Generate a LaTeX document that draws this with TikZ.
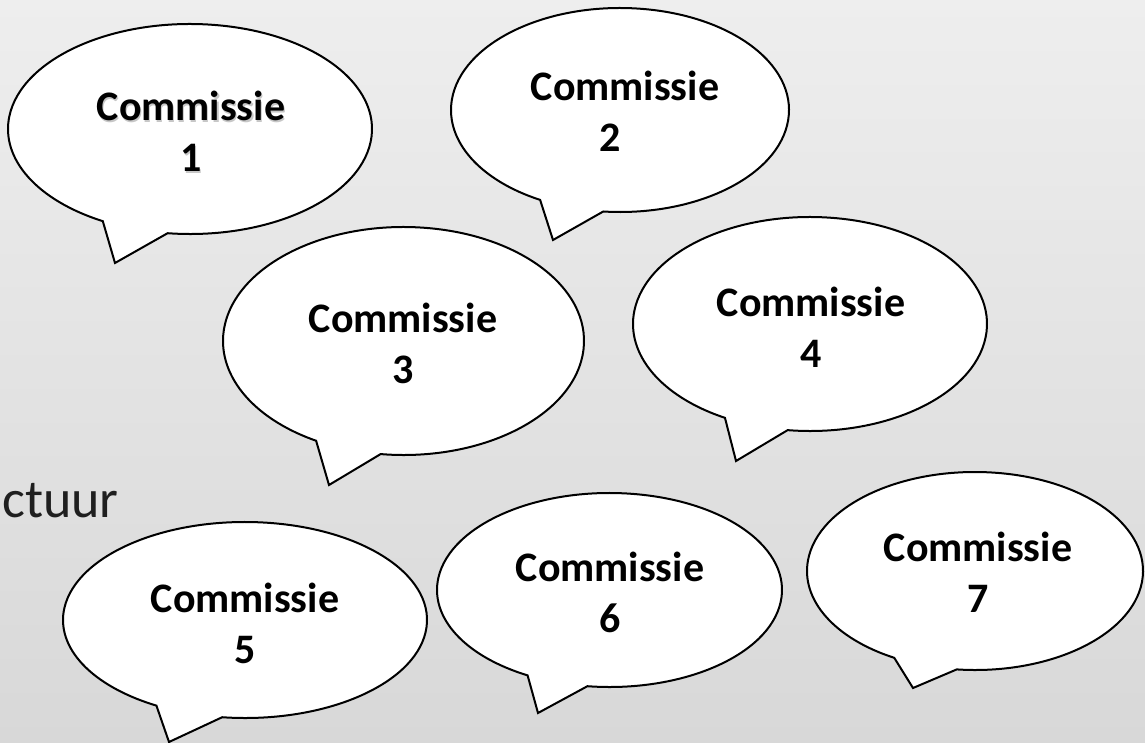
\documentclass[tikz,border=0pt]{standalone}
\usepackage{fontspec}
\setmainfont{Carlito}
\definecolor{bgtop}{HTML}{EEEEEE}
\definecolor{bgbot}{HTML}{D8D8D8}
\tikzset{
  bubbleshape/.style={draw=black, fill=white, line width=2pt, line join=miter},
  ctext/.style={font=\fontsize{42}{51}\selectfont\bfseries, align=center, inner sep=0pt, anchor=base},
  sidetext/.style={font=\fontsize{54}{60}\selectfont, text=black!88, inner sep=0pt, anchor=base west}
}
% #1 cx, #2 cy (pixels, y down), #3 rx, #4 ry, #5 Lx, #6 Ly, #7 Rx, #8 Ry, #9 tip coordinate name
\newcommand\speechbubble[9]{%
  \pgfmathsetmacro\bubaL{atan2(-(#6-#2)/#4, (#5-#1)/#3)}%
  \pgfmathsetmacro\bubaR{atan2(-(#8-#2)/#4, (#7-#1)/#3)}%
  \pgfmathsetmacro\bubaE{\bubaL+360}%
  \draw[bubbleshape] ({#1+#3*cos(\bubaR)}, {-#2+#4*sin(\bubaR)})
    arc[start angle=\bubaR, end angle=\bubaE, x radius=#3, y radius=#4]
    -- (#9) -- cycle;%
}
\begin{document}
\begin{tikzpicture}[x=1pt, y=1pt]
\useasboundingbox (0,0) rectangle (1145,-743);
\shade[top color=bgtop, bottom color=bgbot] (0,0) rectangle (1145,-743);

% tail tips
\coordinate (t1) at (115,-263);
\coordinate (t2) at (553,-240);
\coordinate (t3) at (329,-485);
\coordinate (t4) at (736,-461);
\coordinate (t5) at (169,-742);
\coordinate (t6) at (538,-713);
\coordinate (t7) at (913,-688);

\speechbubble{190}{129}{182}{105}{102}{222}{167}{236}{t1}
\speechbubble{620}{110}{169}{102}{540}{200}{603}{213}{t2}
\speechbubble{403.5}{341}{180.5}{114}{315}{442}{380}{457}{t3}
\speechbubble{810}{324}{177}{107}{723}{420}{787}{433}{t4}
\speechbubble{245}{620}{182}{98}{156}{706}{222}{718}{t5}
\speechbubble{609.5}{590}{172.5}{97}{526}{677}{587}{688}{t6}
\speechbubble{975}{571}{168}{99}{895}{657}{957}{668}{t7}

\node[sidetext] (ctuur) at (2,-517) {ctuur};

% anchor=base is the baseline of the last line
\node[ctext, text=black!22] (c1shadow) at (192.2,-173.2) {Commissie\\1};
\node[ctext] (c1) at (191,-172) {Commissie\\1};
\node[ctext] (c2) at (625,-152) {Commissie\\2\hspace*{30pt}};
\node[ctext] (c3) at (403,-383) {Commissie\\3};
\node[ctext] (c4) at (811,-367) {Commissie\\4};
\node[ctext] (c5) at (245,-663) {Commissie\\5};
\node[ctext] (c6) at (610,-632) {Commissie\\6};
\node[ctext] (c7) at (978,-612) {Commissie\\7};
\end{tikzpicture}
\end{document}
